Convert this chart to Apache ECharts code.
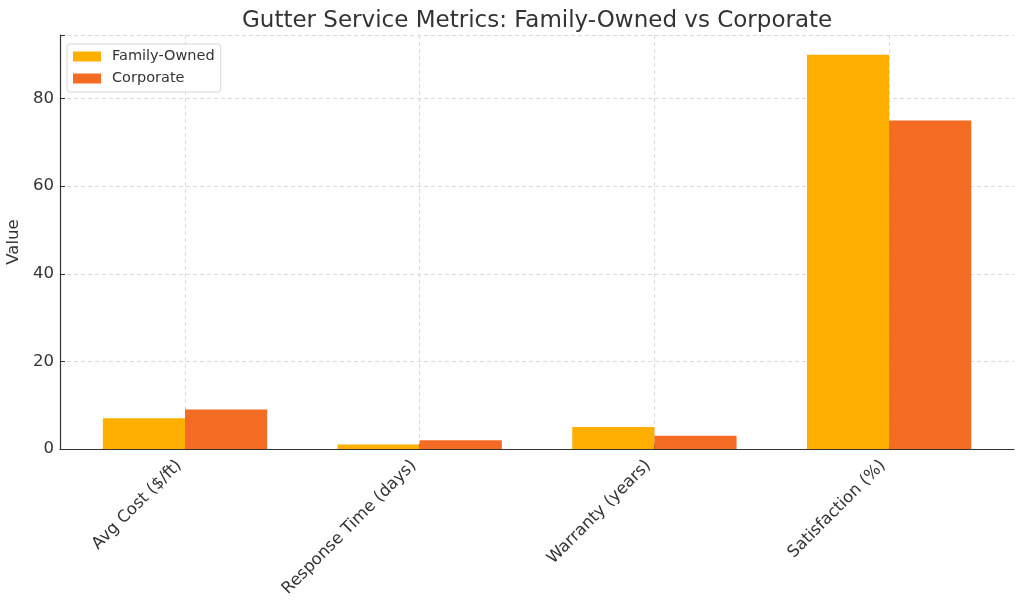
<!DOCTYPE html>
<html><head><meta charset="utf-8">
<script src="https://cdn.jsdelivr.net/npm/echarts@6/dist/echarts.min.js"></script>
<style>html,body{margin:0;padding:0;background:#fff}#c{width:1024px;height:611px}</style>
</head><body><div id="c"></div>
<script>
const categories = ['Avg Cost ($/ft)', 'Response Time (days)', 'Warranty (years)', 'Satisfaction (%)'];
const familyOwned = [7, 1, 5, 90];
const corporate = [9, 2, 3, 75];
const yTicks = [0, 20, 40, 60, 80];

const font = 'DejaVu Sans';
const yMax = 94.5;
const gridLine = { color: '#d0d0d0', type: [4, 3], width: 0.8 };
const chart = echarts.init(document.getElementById('c'));
chart.setOption({
  animation: false,
  backgroundColor: '#fff',
  title: {
    text: 'Gutter Service Metrics: Family-Owned vs Corporate',
    left: 237, top: 5,
    textStyle: { fontFamily: font, fontSize: 23, fontWeight: 'normal', color: '#333' }
  },
  legend: {
    left: 67, top: 44, orient: 'vertical',
    icon: 'rect', itemWidth: 28, itemHeight: 10, itemGap: 7,
    padding: [5, 6, 6, 6],
    backgroundColor: '#fff', borderColor: '#d6d6d6', borderWidth: 1, borderRadius: 3,
    textStyle: { fontFamily: font, fontSize: 14.5, color: '#333', padding: [0, 0, 0, 6] },
    data: ['Family-Owned', 'Corporate']
  },
  grid: [
    { left: 60, right: 10, top: 35, bottom: 162, containLabel: false, outerBoundsMode: 'none' },
    { left: 67.65, right: 17.55, top: 35, bottom: 162, containLabel: false, outerBoundsMode: 'none' }
  ],
  xAxis: [
    { type: 'value', gridIndex: 0, min: 0, max: 1,
      axisLine: { show: true, lineStyle: { color: '#333', width: 1.2 } },
      axisTick: { show: false }, axisLabel: { show: false }, splitLine: { show: false } },
    { type: 'category', gridIndex: 1, data: categories,
      axisLine: { show: false },
      axisTick: { show: true, inside: true, alignWithLabel: true, length: 5, lineStyle: { color: '#333' } },
      axisLabel: { rotate: 45, fontFamily: font, fontSize: 16.5, color: '#333', margin: 20,
        verticalAlign: 'bottom' },
      splitLine: { show: true, alignWithLabel: true, lineStyle: gridLine } }
  ],
  yAxis: [
    { type: 'value', gridIndex: 0, min: 0, max: yMax, interval: 20,
      name: 'Value', nameLocation: 'middle', nameGap: 26,
      nameTextStyle: { fontFamily: font, fontSize: 16.5, color: '#333' },
      axisLine: { show: true, lineStyle: { color: '#333', width: 1.2 } },
      axisTick: { show: true, inside: true, length: 5, lineStyle: { color: '#333' } },
      axisLabel: { fontFamily: font, fontSize: 16.5, color: '#333', margin: 6,
        formatter: v => yTicks.includes(v) ? String(v) : '' },
      splitLine: { show: true, lineStyle: gridLine } },
    { type: 'value', gridIndex: 1, min: 0, max: yMax, show: false, splitLine: { show: false } }
  ],
  series: [
    { name: 'Family-Owned', type: 'bar', xAxisIndex: 1, yAxisIndex: 1, data: familyOwned,
      barWidth: '35%', barGap: '0%', itemStyle: { color: '#FFAF00' } },
    { name: 'Corporate', type: 'bar', xAxisIndex: 1, yAxisIndex: 1, data: corporate,
      barWidth: '35%', barGap: '0%', itemStyle: { color: '#F46B24' } }
  ]
});
</script></body></html>
